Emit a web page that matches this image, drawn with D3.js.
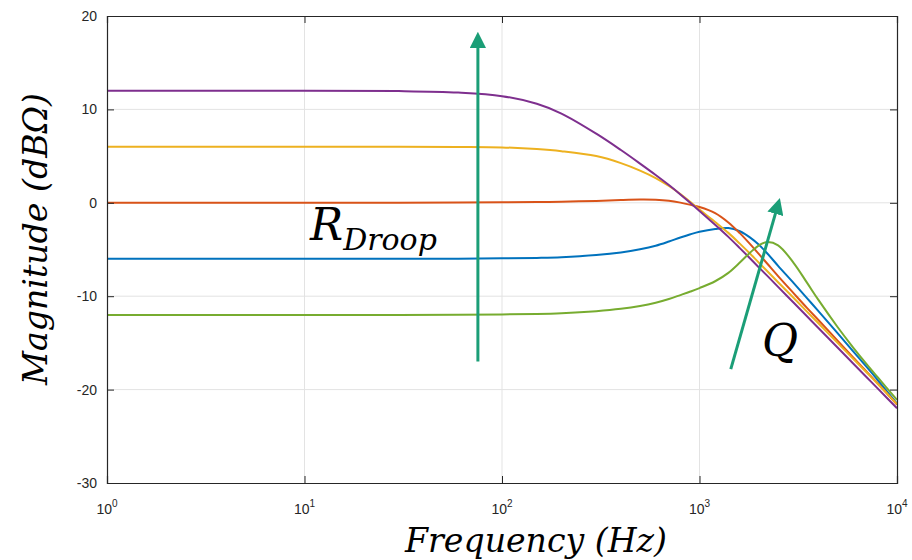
<!DOCTYPE html>
<html>
<head>
<meta charset="utf-8">
<script src="https://cdn.jsdelivr.net/npm/d3@7"></script>
<style>
  body { margin: 0; background: #fff; }
  .tick-label { font-family: "Liberation Sans", Arial, sans-serif; font-size: 14px; fill: #262626; }
  .math { font-family: "DejaVu Serif", serif; font-style: italic; fill: #000; }
</style>
</head>
<body>
<div id="chart"></div>
<script>
// frequency points (Hz)
const freqHz = [1, 10, 30, 60, 100, 150, 200, 300, 400, 500, 600, 700, 800, 900, 1000,
  1200, 1400, 1600, 1800, 2000, 2200, 2500, 3000, 3500, 4000, 5000, 6000, 7000, 8000, 10000];

// magnitude (dB) of each curve, one value per frequency
const magBlue = [-6, -6, -6, -5.98, -5.95, -5.9, -5.83, -5.6, -5.32, -4.98, -4.6, -4.15, -3.72, -3.37, -3.1,
  -2.8, -2.7, -3.05, -3.7, -4.5, -5.4, -6.75, -8.6, -10.2, -11.6, -13.95, -15.9, -17.55, -19.0, -21.5];
const magRed = [0, 0, 0, 0.02, 0.05, 0.08, 0.12, 0.2, 0.3, 0.35, 0.33, 0.22, 0.02, -0.22, -0.45,
  -1.1, -2.1, -3.25, -4.4, -5.5, -6.5, -7.85, -9.7, -11.25, -12.55, -14.75, -16.55, -18.05, -19.35, -21.6];
const magYellow = [6, 6, 6, 5.98, 5.93, 5.75, 5.52, 5.0, 4.25, 3.45, 2.65, 1.8, 0.95, 0.08, -0.72,
  -2.05, -3.22, -4.37, -5.43, -6.42, -7.3, -8.5, -10.2, -11.65, -12.9, -15.0, -16.7, -18.15, -19.4, -21.55];
const magPurple = [12, 12, 11.96, 11.8, 11.42, 10.6, 9.55, 7.4, 5.65, 4.2, 2.98, 1.9, 0.9, -0.02, -0.87,
  -2.35, -3.65, -4.85, -5.93, -6.92, -7.8, -9.0, -10.7, -12.15, -13.4, -15.5, -17.2, -18.65, -19.9, -22.0];
const magGreen = [-12, -12, -12, -11.98, -11.95, -11.9, -11.82, -11.6, -11.35, -11.05, -10.7, -10.3, -9.88, -9.5, -9.13,
  -8.4, -7.5, -6.4, -5.35, -4.55, -4.2, -4.55, -6.45, -8.55, -10.4, -13.3, -15.5, -17.25, -18.7, -21.1];

const seriesColors = ["#0072BD", "#D95319", "#EDB120", "#7E2F8E", "#77AC30"];
const yTicks = [-30, -20, -10, 0, 10, 20];
const xTicks = [1, 10, 100, 1000, 10000];

// annotation arrows in data units: [fromHz, fromDb, toHz, toDb]
const arrowDroop = [75.5, -17.0, 75.5, 18.4];
const arrowQ = [1440, -17.8, 2560, 0.6];

const width = 912, height = 560;
const margin = {top: 16, right: 15, bottom: 77, left: 107};
const plotW = width - margin.left - margin.right;
const plotH = height - margin.top - margin.bottom;

const svg = d3.select("#chart").append("svg")
    .attr("width", width)
    .attr("height", height);

const g = svg.append("g")
    .attr("transform", `translate(${margin.left},${margin.top})`);

const x = d3.scaleLog().domain([1, 10000]).range([0, plotW]);
const y = d3.scaleLinear().domain([-30, 20]).range([plotH, 0]);

// grid
g.append("g").selectAll("line").data(xTicks.slice(1, -1)).join("line")
    .attr("x1", d => x(d)).attr("x2", d => x(d))
    .attr("y1", 0).attr("y2", plotH)
    .attr("stroke", "#e3e3e3").attr("stroke-width", 1);
g.append("g").selectAll("line").data(yTicks.slice(1, -1)).join("line")
    .attr("y1", d => y(d)).attr("y2", d => y(d))
    .attr("x1", 0).attr("x2", plotW)
    .attr("stroke", "#e3e3e3").attr("stroke-width", 1);

// curves
const allSeries = [magBlue, magRed, magYellow, magPurple, magGreen];
const line = d3.line()
    .x((d, i) => x(freqHz[i]))
    .y(d => y(d))
    .curve(d3.curveCatmullRom.alpha(0.5));

g.append("g").selectAll("path").data(allSeries).join("path")
    .attr("d", d => line(d))
    .attr("fill", "none")
    .attr("stroke", (d, i) => seriesColors[i])
    .attr("stroke-width", 2);

// axes box with inward ticks on all sides
const axisColor = "#262626";
const tickLen = 7;
const xAxisB = d3.axisBottom(x).tickValues(xTicks).tickSize(-tickLen).tickFormat("");
const xAxisT = d3.axisTop(x).tickValues(xTicks).tickSize(-tickLen).tickFormat("");
const yAxisL = d3.axisLeft(y).tickValues(yTicks).tickSize(-tickLen).tickFormat("");
const yAxisR = d3.axisRight(y).tickValues(yTicks).tickSize(-tickLen).tickFormat("");

[[xAxisB, `translate(0,${plotH})`], [xAxisT, "translate(0,0)"],
 [yAxisL, "translate(0,0)"], [yAxisR, `translate(${plotW},0)`]].forEach(([ax, tr]) => {
  const a = g.append("g").attr("transform", tr).call(ax);
  a.select(".domain").attr("stroke", axisColor).attr("stroke-width", 1.2);
  a.selectAll(".tick line").attr("stroke", axisColor);
});

// y tick labels
g.append("g").selectAll("text").data(yTicks).join("text")
    .attr("class", "tick-label")
    .attr("x", -10)
    .attr("y", d => y(d))
    .attr("dy", "0.35em")
    .attr("text-anchor", "end")
    .text(d => d);

// x tick labels 10^n
const xl = g.append("g").selectAll("text").data(xTicks).join("text")
    .attr("class", "tick-label")
    .attr("x", d => x(d))
    .attr("y", plotH + 31)
    .attr("text-anchor", "middle");
xl.append("tspan").text("10");
xl.append("tspan").attr("dy", -7).attr("font-size", 10).text(d => Math.round(Math.log10(d)));

// axis titles
svg.append("text")
    .attr("class", "math")
    .attr("x", 536).attr("y", 552)
    .attr("text-anchor", "middle")
    .attr("font-size", 33)
    .attr("textLength", 262)
    .attr("lengthAdjust", "spacingAndGlyphs")
    .text("Frequency (Hz)");

svg.append("text")
    .attr("class", "math")
    .attr("transform", "translate(47,239) rotate(-90)")
    .attr("text-anchor", "middle")
    .attr("font-size", 33)
    .attr("textLength", 292)
    .attr("lengthAdjust", "spacingAndGlyphs")
    .text("Magnitude (dBΩ)");

// arrows
const teal = "#1b9e77";
svg.append("defs").append("marker")
    .attr("id", "head")
    .attr("viewBox", "0 0 10 10")
    .attr("refX", 2).attr("refY", 5)
    .attr("markerWidth", 5.5).attr("markerHeight", 5.5)
    .attr("markerUnits", "strokeWidth")
    .attr("orient", "auto")
    .append("path").attr("d", "M0,0 L10,5 L0,10 Z").attr("fill", teal);

const drawArrow = (a) => {
  const x1 = x(a[0]), y1 = y(a[1]), x2 = x(a[2]), y2 = y(a[3]);
  const len = Math.hypot(x2 - x1, y2 - y1);
  const k = (len - 14) / len;
  g.append("line")
      .attr("x1", x1).attr("y1", y1)
      .attr("x2", x1 + (x2 - x1) * k).attr("y2", y1 + (y2 - y1) * k)
      .attr("stroke", teal).attr("stroke-width", 3)
      .attr("marker-end", "url(#head)");
};
drawArrow(arrowDroop);
drawArrow(arrowQ);

// labels
const rd = svg.append("text").attr("class", "math").attr("x", 310).attr("y", 240);
rd.append("tspan").attr("font-size", 44).text("R");
rd.append("tspan").attr("font-size", 30).attr("dy", 10).text("Droop");

svg.append("text").attr("class", "math")
    .attr("x", 762).attr("y", 356)
    .attr("font-size", 44)
    .text("Q");
</script>
</body>
</html>
